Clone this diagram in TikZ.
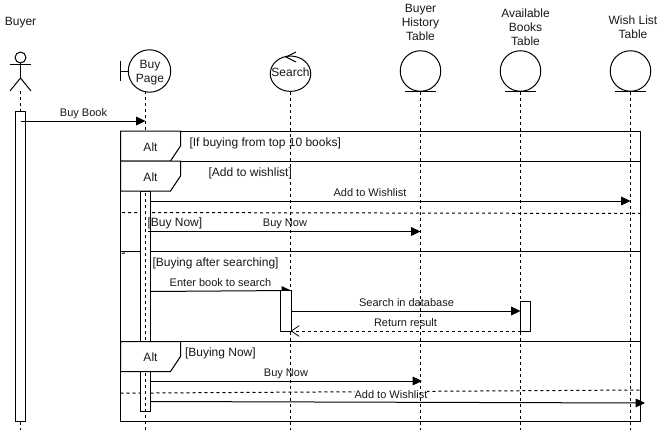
\documentclass[tikz,border=0pt]{standalone}
\usepackage{fontspec}
\setmainfont{Liberation Sans}
\usetikzlibrary{arrows.meta,shapes.geometric}
\tikzset{
  every path/.style={line width=0.75pt},
  txt/.style={font=\fontsize{9}{10.6}\selectfont,inner sep=0pt,align=center,text=black!90,yshift=-0.75pt},
  lbl/.style={font=\fontsize{8.25}{10}\selectfont,inner sep=0pt,text height=6.2pt,text depth=1.8pt,text=black!90,yshift=-0.75pt},
  guard/.style={font=\fontsize{9}{10.6}\selectfont,inner sep=0pt,anchor=west,text height=6.6pt,text depth=2pt,text=black!90,yshift=-0.75pt},
  life/.style={dash pattern=on 2.25pt off 2.25pt},
  sepdash/.style={dash pattern=on 2.25pt off 2.25pt},
  msg/.style={-{Triangle[length=7pt,width=6.5pt]}},
  ret/.style={-{Straight Barb[length=6pt,width=8pt,line width=0.6pt]},dash pattern=on 2.25pt off 2.25pt},
  activ/.style={draw,fill=white,minimum width=7.5pt,inner sep=0pt},
  tabbox/.style={draw,fill=white,line join=miter},
  circ/.style={draw,circle,inner sep=0pt,minimum size=30.4pt},
}
\begin{document}
\begin{tikzpicture}[x=0.75pt,y=-0.75pt]
\useasboundingbox (0,0) rectangle (661,432);
\fill[white] (0,0) rectangle (661,432);

% lifeline ends
\coordinate (buyerEnd) at (20.5,430);
\coordinate (pageTop) at (145.5,91);
\coordinate (pageEnd) at (145.5,430);
\coordinate (searchEnd) at (290.5,430);
\coordinate (histEnd) at (420.5,430);
\coordinate (availEnd) at (520.5,430);
\coordinate (wishEnd) at (630.5,430);

% frame
\node[draw,inner sep=0pt,minimum width=390pt,minimum height=217.5pt] (frame) at (380.5,276.25) {};
\coordinate (r1l) at (120.5,161); \coordinate (r1r) at (640.5,161);
\coordinate (r2l) at (120.5,251); \coordinate (r2r) at (640.5,251);
\coordinate (r3l) at (120.5,341.5); \coordinate (r3r) at (640.5,341.5);
\draw (r1l) -- (r1r);
\draw (r2l) -- (r2r);
\draw (r3l) -- (r3r);

% dashed separators
\coordinate (d1l) at (122,212.5); \coordinate (d1r) at (643,213.5);
\coordinate (d2l) at (120.5,393.2); \coordinate (d2r) at (640.5,390);
\draw[sepdash] (d1l) -- (d1r);
\draw[sepdash] (d2l) -- (d2r);
\draw[sepdash] (122,253.5) -- (128,252.2);
\node[lbl,fill=white] (mAddB) at (391,394.5) {Add to Wishlist};

% activations
\node[activ,minimum height=165pt] (actPage) at (145.5,301) {};
\node[activ,minimum height=30pt] (actSearch) at (285.5,311) {};
\node[activ,minimum height=22.5pt] (actAvail) at (525.5,316) {};

% actor
\node[draw,circle,inner sep=0pt,minimum size=8.2pt] (head) at (20.5,57.5) {};
\coordinate (hip) at (20.5,78);
\coordinate (armL) at (10,64.5); \coordinate (armR) at (31,64.5);
\coordinate (legL) at (10,91); \coordinate (legR) at (31,91);
\coordinate (footC) at (20.5,91);
\draw (head.south) -- (hip);
\draw (armL) -- (armR);
\draw (legL) -- (hip) -- (legR);

% buyer activation
\node[activ,minimum height=232.5pt] (actBuyer) at (20.5,266) {};
\draw[life] (footC) -- (actBuyer.north);
\draw[life] (actBuyer.south) -- (buyerEnd);

% boundary
\node[circ,minimum size=31.8pt] (page) at (149.5,71) {};
\node[txt] (pageL) at (150,71.5) {Buy\\Page};
\coordinate (bTop) at (120.5,61); \coordinate (bBot) at (120.5,81); \coordinate (bMid) at (120.5,71);
\draw (bTop) -- (bBot);
\draw (bMid) -- (page.west);

% control
\node[draw,ellipse,inner sep=0pt,minimum width=30.4pt,minimum height=26.5pt] (search) at (290.5,73.7) {};
\node[txt] (searchL) at (290.5,71.5) {Search};
\coordinate (ctA) at (296,52); \coordinate (ctB) at (286,57); \coordinate (ctC) at (296,62);
\draw (ctA) -- (ctB) -- (ctC);

% entities
\node[circ] (hist) at (420.5,71) {};
\node[circ] (avail) at (520.5,71) {};
\node[circ] (wish) at (630.5,71) {};
\draw (405,91) -- (436,91);
\draw (505,91) -- (536,91);
\draw (615,91) -- (646,91);
\node[txt] (buyerL) at (20.5,21.5) {Buyer};
\node[txt] (histL) at (420.5,21.5) {Buyer\\History\\Table};
\node[txt] (availL) at (525.5,26) {Available\\Books\\Table};
\node[txt] (wishL) at (633,26.5) {Wish List\\Table};

% lifelines
\draw[life] (pageTop) -- (pageEnd);
\draw[life] (search.south) -- (searchEnd);
\draw[life] (hist.south) -- (histEnd);
\draw[life] (avail.south) -- (availEnd);
\draw[life] (wish.south) -- (wishEnd);

% alt tabs
\path[tabbox] (120.5,131) -- (180.5,131) -- (180.5,146) -- (170.5,161) -- (120.5,161) -- cycle;
\path[tabbox] (120.5,161) -- (180.5,161) -- (180.5,176) -- (170.5,191) -- (120.5,191) -- cycle;
\path[tabbox] (120.5,341.5) -- (180.5,341.5) -- (180.5,356.5) -- (170.5,371.5) -- (120.5,371.5) -- cycle;
\node[txt] (alt1) at (150.5,146.5) {Alt};
\node[txt] (alt2) at (150.5,176.5) {Alt};
\node[txt] (alt3) at (150.5,356.5) {Alt};

% guards
\node[guard] (g1) at (189,142) {[If buying from top 10 books]};
\node[guard] (g2) at (208,172) {[Add to wishlist]};
\node[guard] (g3) at (147,222) {[Buy Now]};
\node[guard] (g4) at (152,262) {[Buying after searching]};
\node[guard] (g5) at (184.5,352) {[Buying Now]};

% messages
\coordinate (m1a) at (20.5,121); \coordinate (m1b) at (145.5,121);
\draw[msg] (m1a) -- (m1b);
\node[lbl] (m1) at (83.5,112.5) {Buy Book};
\coordinate (m2a) at (150.5,201); \coordinate (m2b) at (630.5,201);
\draw[msg] (m2a) -- (m2b);
\node[lbl] (m2) at (370,193) {Add to Wishlist};
\coordinate (m3a) at (148,231.5); \coordinate (m3b) at (420.5,231.5);
\draw[msg] (m3a) -- (m3b);
\node[lbl] (m3) at (285,223) {Buy Now};
\coordinate (m4a) at (150.5,291.5);
\draw[msg] (m4a) -- (actSearch.north east);
\draw[fill=white] (actSearch.north west) rectangle (actSearch.south east);
\node[lbl] (m4) at (220.5,282.5) {Enter book to search};
\coordinate (m5a) at (290.5,311); \coordinate (m5b) at (520.5,311);
\draw[msg] (m5a) -- (m5b);
\node[lbl] (m5) at (406.5,302.5) {Search in database};
\coordinate (m6a) at (520.5,331); \coordinate (m6b) at (290.5,331);
\draw[ret] (m6a) -- (m6b);
\node[lbl] (m6) at (405.5,322.5) {Return result};
\coordinate (m7a) at (150.5,381); \coordinate (m7b) at (422,381);
\draw[msg] (m7a) -- (m7b);
\node[lbl] (m7) at (286,372.5) {Buy Now};
\coordinate (m8a) at (150.5,401.5); \coordinate (m8b) at (645,403);
\draw[msg] (m8a) -- (m8b);
\end{tikzpicture}
\end{document}
